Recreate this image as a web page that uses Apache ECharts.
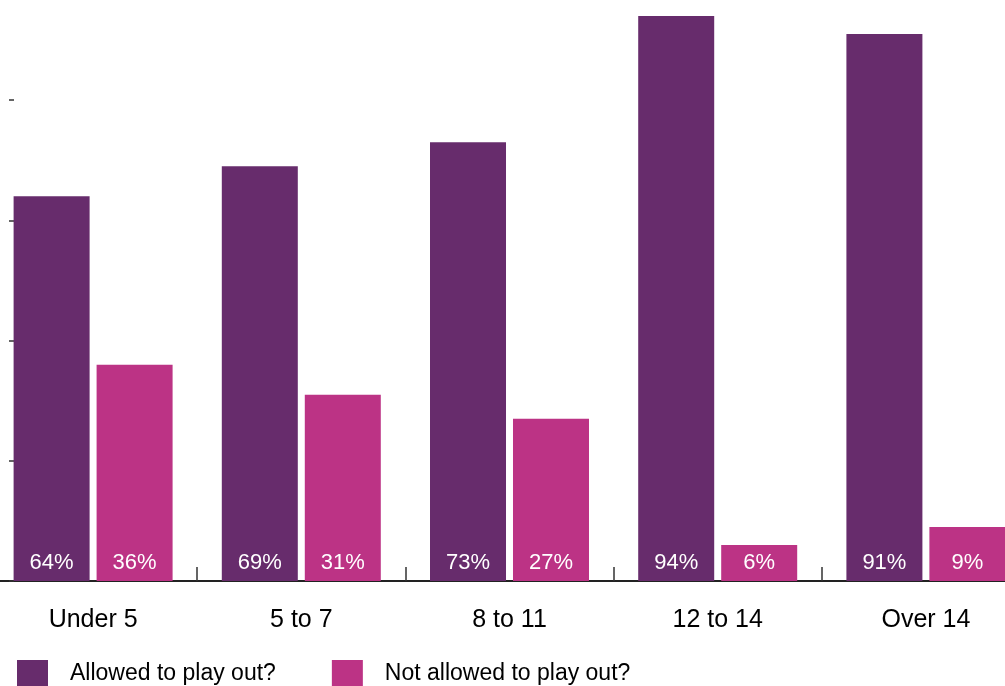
<!DOCTYPE html>
<html>
<head>
<meta charset="utf-8">
<script src="https://cdn.jsdelivr.net/npm/echarts@6/dist/echarts.min.js"></script>
<style>
  html, body { margin: 0; padding: 0; background: #fff; }
  #chart { width: 1005px; height: 686px; }
</style>
</head>
<body>
<div id="chart"></div>
<script>
// data
const categories = ["Under 5", "5 to 7", "8 to 11", "12 to 14", "Over 14"];
const allowed = [64, 69, 73, 94, 91];
const notAllowed = [36, 31, 27, 6, 9];
const seriesNames = ["Allowed to play out?", "Not allowed to play out?"];

const chart = echarts.init(document.getElementById("chart"));

const valueLabel = {
    show: true,
    position: "insideBottom",
    distance: 7,
    color: "#fff",
    fontFamily: "Liberation Sans, Arial, sans-serif",
    fontSize: 22,
    formatter: p => p.value + "%"
};

chart.setOption({
    animation: false,
    // plot area runs a little past the canvas on both sides
    grid: {
        left: -11, right: -25, top: -20, bottom: 105,
        outerBoundsMode: "none",
        containLabel: false
    },
    legend: {
        left: 17,
        top: 660,
        padding: 0,
        itemWidth: 31,
        itemHeight: 27,
        itemGap: 56,
        icon: "rect",
        textStyle: {
            fontFamily: "Liberation Sans, Arial, sans-serif",
            fontSize: 23,
            color: "#000",
            padding: [0, 0, 0, 17]
        },
        data: seriesNames
    },
    xAxis: {
        type: "category",
        data: categories,
        axisLine: { lineStyle: { color: "#222", width: 2 } },
        axisTick: { show: true, inside: true, length: 14, lineStyle: { color: "#333", width: 1.5 } },
        axisLabel: {
            margin: 27,
            color: "#000",
            fontFamily: "Liberation Sans, Arial, sans-serif",
            fontSize: 25
        }
    },
    yAxis: {
        type: "value",
        min: 0,
        max: 100,
        interval: 20,
        offset: -25,
        axisLine: { show: false },
        axisTick: { show: true, length: 5, lineStyle: { color: "#333", width: 1.5 } },
        axisLabel: { show: false },
        splitLine: { show: false }
    },
    series: [
        {
            name: seriesNames[0],
            type: "bar",
            data: allowed,
            barWidth: 76,
            barGap: "9.2%",
            itemStyle: { color: "#672c6c" },
            label: valueLabel
        },
        {
            name: seriesNames[1],
            type: "bar",
            data: notAllowed,
            barWidth: 76,
            itemStyle: { color: "#bc3385" },
            label: valueLabel
        }
    ]
});
</script>
</body>
</html>
